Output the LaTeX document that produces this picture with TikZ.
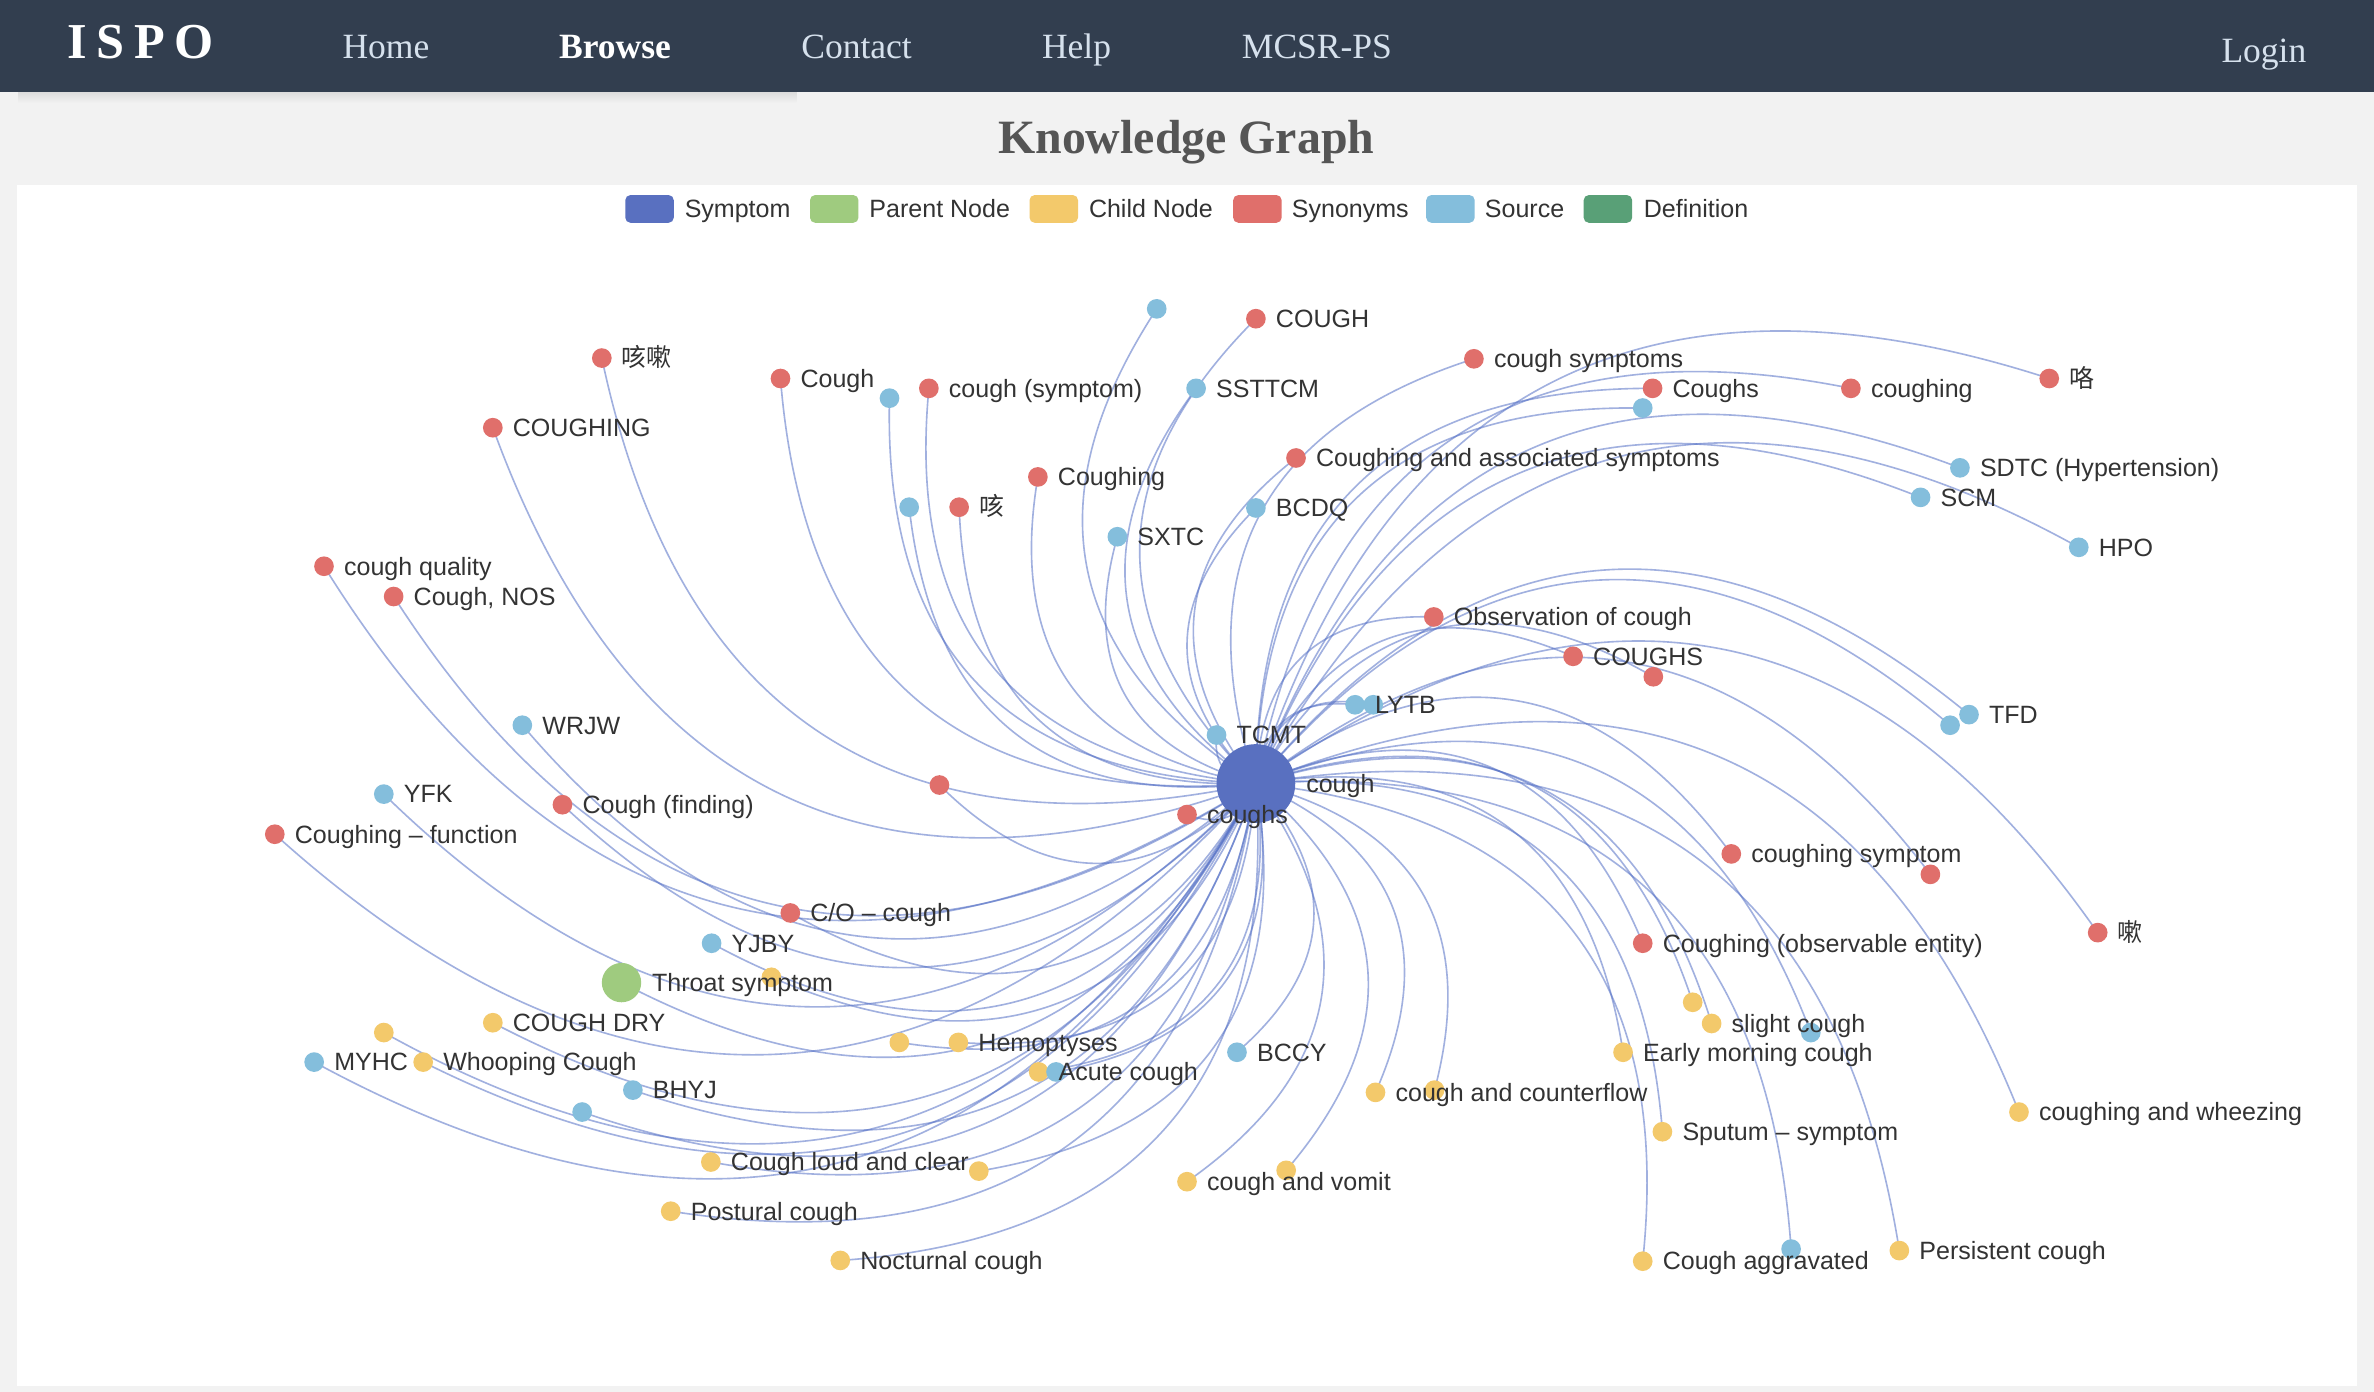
\documentclass[tikz,border=0pt]{standalone}
\usepackage{fontspec}
\setmainfont{Liberation Serif}
\newfontfamily\lab{Liberation Sans}
\newfontfamily\cjk{Noto Sans CJK SC}
\usetikzlibrary{calc}
\definecolor{hdr}{RGB}{50,62,79}
\definecolor{navtxt}{RGB}{214,225,237}
\definecolor{pagebg}{RGB}{242,242,242}
\definecolor{titlec}{RGB}{85,85,85}
\definecolor{cSym}{RGB}{89,112,192}
\definecolor{cPar}{RGB}{159,203,127}
\definecolor{cChd}{RGB}{243,201,107}
\definecolor{cSyn}{RGB}{224,111,107}
\definecolor{cSrc}{RGB}{132,190,220}
\definecolor{cDef}{RGB}{89,160,119}
\definecolor{edgec}{RGB}{84,112,198}
\definecolor{txt}{RGB}{51,51,51}
\pgfdeclarelayer{bg}
\pgfdeclarelayer{edges}
\pgfdeclarelayer{labels}
\pgfsetlayers{bg,edges,main,labels}
\tikzset{
  dot/.style={circle,inner sep=0pt,minimum size=9.75pt,draw=none},
  lbl/.style={anchor=west,inner sep=0pt,text=txt,text height=8.7pt,text depth=0pt,
    font=\lab\fontsize{12.4}{14}\selectfont},
  nav/.style={anchor=base west,inner sep=0pt,text=navtxt,font=\fontsize{17.6}{20}\selectfont},
  legbox/.style={rectangle,rounded corners=2.5pt,minimum width=24pt,minimum height=13.7pt,inner sep=0pt,draw=none},
  kgline/.style={draw=edgec,draw opacity=0.55,line width=0.8pt},
}
\newcommand\kn[5]{%
  \node[dot,fill=#4] (#1) at (#2,#3) {};
  \def\kntmp{#5}%
  \ifx\kntmp\empty\else
    \begin{pgfonlayer}{labels}\node[lbl] (#1-l) at ($(#1.center)+(13,0)$) {#5};\end{pgfonlayer}%
  \fi}
\begin{document}
\begin{tikzpicture}[x=0.75pt,y=-0.75pt]
\useasboundingbox (0,0) rectangle (1568,919.4);
\begin{pgfonlayer}{bg}
  \fill[pagebg] (0,0) rectangle (1568,919.4);
  \shade[top color=black!14,bottom color=pagebg] (12,60.5) rectangle (526,68);
  \fill[hdr] (0,0) rectangle (1568,60.5);
  \fill[white] (11,122) rectangle (1557,915.5);
\end{pgfonlayer}
% header
\node[anchor=base west,inner sep=0pt,text=white,font=\fontsize{24.9}{27}\selectfont\bfseries] (logo) at (44,38.5) {I\kern4.9pt S\kern4.9pt P\kern4.9pt O};
\node[nav] (home) at (226,38.5) {Home};
\node[nav,text=white,font=\fontsize{17.6}{20}\selectfont\bfseries] (browse) at (369,38.5) {Browse};
\node[nav] (contact) at (529,38.5) {Contact};
\node[nav] (help) at (688,38.5) {Help};
\node[nav] (mcsr) at (820,38.5) {MCSR-PS};
\node[nav] (login) at (1467,41.5) {Login};
\node[anchor=base,inner sep=0pt,text=titlec,font=\fontsize{23.7}{26}\selectfont\bfseries] (title) at (783.5,101.7) {Knowledge Graph};
% legend
\node[legbox,fill=cSym] (lg1) at (429,138) {};
\node[lbl] (lg1t) at (452,138) {Symptom};
\node[legbox,fill=cPar] (lg2) at (551,138) {};
\node[lbl] (lg2t) at (574,138) {Parent Node};
\node[legbox,fill=cChd] (lg3) at (696,138) {};
\node[lbl] (lg3t) at (719,138) {Child Node};
\node[legbox,fill=cSyn] (lg4) at (830.5,138) {};
\node[lbl] (lg4t) at (853,138) {Synonyms};
\node[legbox,fill=cSrc] (lg5) at (958,138) {};
\node[lbl] (lg5t) at (980.5,138) {Source};
\node[legbox,fill=cDef] (lg6) at (1062,138) {};
\node[lbl] (lg6t) at (1085.5,138) {Definition};
% synonyms
\kn{s1}{397.5}{236.5}{cSyn}{\cjk 咳嗽}
\kn{s2}{325.5}{282.5}{cSyn}{COUGHING}
\kn{s3}{515.5}{250}{cSyn}{Cough}
\kn{s4}{613.5}{256.5}{cSyn}{cough (symptom)}
\kn{s5}{829.5}{210.5}{cSyn}{COUGH}
\kn{s6}{973.5}{237}{cSyn}{cough symptoms}
\kn{s7}{1091.5}{256.5}{cSyn}{Coughs}
\kn{s8}{1222.5}{256.5}{cSyn}{coughing}
\kn{s9}{1353.5}{250}{cSyn}{\cjk 咯}
\kn{s10}{856}{302.5}{cSyn}{Coughing and associated symptoms}
\kn{s11}{685.5}{315}{cSyn}{Coughing}
\kn{s12}{633.5}{335}{cSyn}{\cjk 咳}
\kn{s13}{214}{374}{cSyn}{cough quality}
\kn{s14}{260}{394}{cSyn}{Cough, NOS}
\kn{s15}{947}{407.5}{cSyn}{Observation of cough}
\kn{s16}{1039}{433.5}{cSyn}{COUGHS}
\kn{s17}{1092}{447}{cSyn}{}
\kn{s18}{371.5}{531.5}{cSyn}{Cough (finding)}
\kn{s19}{620.5}{518.5}{cSyn}{}
\kn{s21}{181.5}{551}{cSyn}{Coughing – function}
\kn{s22}{522}{603}{cSyn}{C/O – cough}
\kn{s23}{1143.5}{564}{cSyn}{coughing symptom}
\kn{s24}{1275}{577.5}{cSyn}{}
\kn{s25}{1085}{623}{cSyn}{Coughing (observable entity)}
\kn{s26}{1385.5}{616}{cSyn}{\cjk 嗽}
% sources
\kn{r1}{764}{204}{cSrc}{}
\kn{r2}{587.5}{263}{cSrc}{}
\kn{r3}{790}{256.5}{cSrc}{SSTTCM}
\kn{r4}{1085}{269.5}{cSrc}{}
\kn{r5}{1294.5}{309}{cSrc}{SDTC (Hypertension)}
\kn{r6}{1268.5}{328.5}{cSrc}{SCM}
\kn{r7}{1373}{361.5}{cSrc}{HPO}
\kn{r8}{600.5}{335}{cSrc}{}
\kn{r9}{829.5}{335.5}{cSrc}{BCDQ}
\kn{r10}{738}{354.5}{cSrc}{SXTC}
\kn{r11}{345}{479}{cSrc}{WRJW}
\kn{r13}{907}{465.5}{cSrc}{}
\kn{r12}{895}{465.5}{cSrc}{LYTB}
\kn{r14}{803.5}{485.5}{cSrc}{TCMT}
\kn{r16}{1288}{479}{cSrc}{}
\kn{r15}{1300.5}{472}{cSrc}{TFD}
\kn{r17}{253.5}{524.5}{cSrc}{YFK}
\kn{r18}{470}{623}{cSrc}{YJBY}
\kn{r19}{817}{695}{cSrc}{BCCY}
\kn{r20}{207.5}{701.5}{cSrc}{MYHC}
\kn{r21}{418}{720}{cSrc}{BHYJ}
\kn{r22}{384.5}{734.5}{cSrc}{}
\kn{r24}{1196}{682}{cSrc}{}
\kn{r25}{1183}{825}{cSrc}{}
% children
\kn{y1}{325.5}{675.5}{cChd}{COUGH DRY}
\kn{y2}{253.5}{682}{cChd}{}
\kn{y3}{279.5}{701.5}{cChd}{Whooping Cough}
\kn{y4}{594}{688.5}{cChd}{}
\kn{y5}{633}{688.5}{cChd}{Hemoptyses}
\kn{y6}{686}{708}{cChd}{Acute cough}
\kn{r23}{697.5}{708}{cSrc}{}
\kn{y7}{469.5}{767.5}{cChd}{Cough loud and clear}
\kn{y8}{646.5}{773.5}{cChd}{}
\kn{y9}{443}{800}{cChd}{Postural cough}
\kn{y10}{555}{832.5}{cChd}{Nocturnal cough}
\kn{y12}{947.5}{720}{cChd}{}
\kn{y11}{908.5}{721.5}{cChd}{cough and counterflow}
\kn{y14}{849.5}{773}{cChd}{}
\kn{y13}{784}{780.5}{cChd}{cough and vomit}
\kn{y15}{1072}{695}{cChd}{Early morning cough}
\kn{y16}{1118}{662}{cChd}{}
\kn{y17}{1130.5}{676}{cChd}{slight cough}
\kn{y18}{1098}{747.5}{cChd}{Sputum – symptom}
\kn{y19}{1085}{833}{cChd}{Cough aggravated}
\kn{y20}{1254.5}{826}{cChd}{Persistent cough}
\kn{y21}{1333.5}{734.5}{cChd}{coughing and wheezing}
\kn{y22}{509.5}{645.5}{cChd}{}
% parent
\node[dot,fill=cPar,minimum size=19.5pt] (p1) at (410.5,649) {};
\begin{pgfonlayer}{labels}\node[lbl] (p1-l) at ($(p1.center)+(20,0)$) {Throat symptom};\end{pgfonlayer}
% centre
\node[dot,fill=cSym,minimum size=39pt] (c) at (829.5,517.5) {};
\begin{pgfonlayer}{labels}\node[lbl] (c-l) at ($(c.center)+(33,0)$) {cough};\end{pgfonlayer}
\kn{s20}{784}{538}{cSyn}{coughs}
% edges
\begin{pgfonlayer}{edges}
\foreach \n in {s1,s2,s3,s4,s5,s6,s7,s8,s9,s10,s11,s12,s13,s14,s15,s16,s17,s18,s19,s20,s21,s22,s23,s24,s25,s26,
  r1,r2,r3,r4,r5,r6,r7,r8,r9,r10,r11,r12,r13,r14,r15,r16,r17,r18,r19,r20,r21,r22,r23,r24,r25,
  y1,y2,y3,y4,y5,y6,y7,y8,y9,y10,y11,y12,y13,y14,y15,y16,y17,y18,y19,y20,y21,y22,p1}{
  \coordinate (m) at ($(c.center)!0.5!(\n.center)$);
  \coordinate (k) at ($(m)!1!90:(\n.center)$);
  \draw[kgline] (c.center) .. controls ($(c.center)!0.6667!(k)$) and ($(\n.center)!0.6667!(k)$) .. (\n.center);
}
\end{pgfonlayer}
\end{tikzpicture}
\end{document}
